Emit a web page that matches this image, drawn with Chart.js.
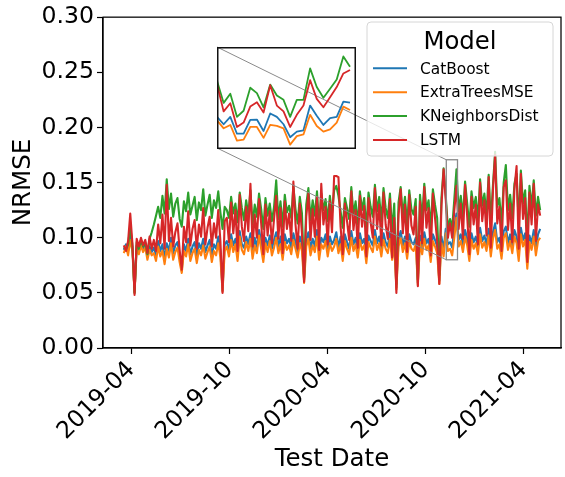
<!DOCTYPE html>
<html>
<head>
<meta charset="utf-8">
<script src="https://cdn.jsdelivr.net/npm/chart.js@4.4.1/dist/chart.umd.min.js"></script>
<style>
  html, body { margin: 0; padding: 0; background: #fff; }
  #wrap { position: relative; width: 565px; height: 477px; }
  #main { position: absolute; left: 0; top: 0; }
  #inset { position: absolute; left: 217px; top: 47px; }
</style>
</head>
<body>
<div id="wrap">
  <canvas id="main" width="565" height="477"></canvas>
  <canvas id="inset" width="139" height="102"></canvas>
</div>
<script>
// data (one value every 4 days from 2019-03-18)
const startDate = '2019-03-18';
const stepDays = 4;
const seriesNames = ['CatBoost', 'ExtraTreesMSE', 'KNeighborsDist', 'LSTM'];
const tickDates = ['2019-04-01', '2019-10-01', '2020-04-01', '2020-10-01', '2021-04-01'];
const tickLabels = ['2019-04', '2019-10', '2020-04', '2020-10', '2021-04'];
const yTicks = [0, 0.05, 0.10, 0.15, 0.20, 0.25, 0.30];

const catBoost = [
  0.089,0.094,0.088,0.102,0.091,0.051,0.093,0.088,0.096,0.090,0.094,0.083,0.092,0.087,
  0.091,0.084,0.097,0.088,0.094,0.081,0.095,0.088,0.100,0.086,
  0.093,0.096,0.083,0.070,0.094,0.088,0.099,0.085,0.092,0.096,
  0.083,0.095,0.090,0.099,0.087,0.093,0.098,0.084,0.094,0.090,
  0.101,0.088,0.052,0.094,
  0.097,0.088,0.103,0.093,0.099,0.085,0.106,0.094,0.091,0.101,
  0.094,0.104,0.086,0.100,0.091,0.107,0.097,0.083,0.100,0.093,
  0.102,0.090,0.098,0.105,0.092,0.101,0.085,0.103,0.095,0.099,
  0.091,0.104,0.096,0.087,0.101,0.094,0.062,0.098,0.105,0.090,
  0.099,0.092,0.107,0.086,0.100,0.096,0.103,0.089,0.101,0.094,
  0.098,0.105,0.091,0.101,0.084,0.103,0.096,0.090,0.106,0.094,
  0.100,0.088,0.104,0.095,0.099,0.083,0.102,0.097,0.093,0.107,
  0.095,0.101,0.089,0.104,0.096,0.092,0.105,0.086,0.099,0.055,
  0.098,0.106,0.093,0.101,0.087,0.103,0.096,0.094,0.100,0.059,
  0.102,0.091,0.105,0.095,0.099,0.084,0.103,0.098,0.092,0.061,
  0.101,0.089,0.108,0.094,0.096,0.091,0.110,0.122,0.098,0.103,
  0.093,0.107,0.099,0.085,0.104,0.096,0.101,0.091,0.109,0.097,
  0.102,0.094,0.108,0.089,0.105,0.113,0.096,0.100,0.087,0.106,
  0.110,0.095,0.103,0.092,0.107,0.101,0.085,0.109,0.098,0.104,
  0.078,0.102,0.095,0.107,0.090,0.103,0.108
];
const extraTrees = [
  0.086,0.092,0.084,0.098,0.088,0.050,0.090,0.085,0.093,0.087,0.091,0.080,0.089,0.084,
  0.086,0.079,0.092,0.083,0.088,0.076,0.090,0.082,0.095,0.080,
  0.087,0.091,0.078,0.068,0.088,0.083,0.094,0.079,0.086,0.090,
  0.077,0.089,0.084,0.093,0.081,0.087,0.092,0.078,0.088,0.084,
  0.095,0.082,0.051,0.088,
  0.092,0.083,0.098,0.087,0.094,0.079,0.101,0.089,0.085,0.096,
  0.088,0.099,0.081,0.093,0.086,0.102,0.090,0.078,0.095,0.087,
  0.097,0.084,0.091,0.100,0.086,0.094,0.080,0.096,0.089,0.093,
  0.085,0.098,0.090,0.082,0.095,0.088,0.059,0.092,0.099,0.084,
  0.093,0.087,0.101,0.080,0.094,0.090,0.097,0.083,0.095,0.088,
  0.092,0.099,0.086,0.094,0.079,0.097,0.090,0.085,0.100,0.088,
  0.094,0.082,0.098,0.089,0.093,0.077,0.096,0.091,0.087,0.101,
  0.089,0.095,0.083,0.098,0.090,0.086,0.099,0.080,0.093,0.053,
  0.092,0.100,0.087,0.095,0.081,0.097,0.090,0.088,0.094,0.057,
  0.096,0.085,0.099,0.089,0.093,0.078,0.097,0.092,0.086,0.058,
  0.095,0.083,0.104,0.088,0.090,0.084,0.100,0.118,0.092,0.097,
  0.087,0.101,0.093,0.079,0.098,0.090,0.095,0.085,0.103,0.091,
  0.096,0.088,0.102,0.083,0.099,0.107,0.090,0.094,0.081,0.100,
  0.104,0.089,0.097,0.086,0.101,0.095,0.079,0.103,0.092,0.098,
  0.072,0.096,0.089,0.101,0.084,0.097,0.100
];
const kNeighbors = [
  0.091,0.090,0.094,0.110,0.093,0.050,0.096,0.090,0.098,0.092,0.096,0.085,0.099,0.105,
  0.112,0.120,0.128,0.118,0.138,0.122,0.153,0.126,0.140,0.119,
  0.131,0.136,0.117,0.110,0.133,0.124,0.141,0.121,0.129,0.137,
  0.116,0.132,0.125,0.144,0.120,0.130,0.139,0.118,0.134,0.127,
  0.142,0.123,0.108,0.128,
  0.125,0.118,0.137,0.122,0.131,0.114,0.141,0.127,0.116,0.134,
  0.121,0.143,0.112,0.130,0.119,0.140,0.126,0.108,0.136,0.120,
  0.131,0.115,0.128,0.152,0.117,0.133,0.110,0.139,0.123,0.129,
  0.118,0.147,0.126,0.113,0.137,0.122,0.064,0.130,0.145,0.116,
  0.134,0.120,0.142,0.111,0.140,0.125,0.135,0.115,0.138,0.122,
  0.143,0.147,0.138,0.124,0.109,0.136,0.127,0.117,0.146,0.121,
  0.133,0.112,0.142,0.125,0.136,0.107,0.141,0.128,0.119,0.148,
  0.124,0.137,0.115,0.145,0.127,0.118,0.140,0.106,0.131,0.058,
  0.132,0.146,0.120,0.137,0.111,0.143,0.126,0.121,0.135,0.062,
  0.139,0.117,0.149,0.125,0.134,0.108,0.144,0.130,0.118,0.066,
  0.136,0.163,0.138,0.109,0.117,0.109,0.135,0.162,0.124,0.138,
  0.119,0.151,0.131,0.110,0.142,0.127,0.137,0.116,0.153,0.129,
  0.140,0.121,0.157,0.114,0.148,0.178,0.128,0.136,0.112,0.150,
  0.166,0.125,0.139,0.118,0.149,0.158,0.113,0.161,0.131,0.143,
  0.098,0.147,0.128,0.152,0.120,0.137,0.125
];
const lstm = [
  0.093,0.088,0.097,0.122,0.095,0.048,0.099,0.092,0.100,0.093,0.098,0.086,0.101,0.090,
  0.098,0.088,0.112,0.095,0.121,0.090,0.148,0.097,0.118,0.092,
  0.105,0.113,0.089,0.071,0.110,0.096,0.124,0.093,0.108,0.116,
  0.090,0.112,0.101,0.127,0.094,0.109,0.119,0.092,0.113,0.100,
  0.125,0.097,0.050,0.115,
  0.118,0.096,0.132,0.104,0.125,0.088,0.139,0.110,0.097,0.128,
  0.106,0.149,0.092,0.121,0.100,0.135,0.113,0.085,0.130,0.102,
  0.124,0.095,0.117,0.138,0.099,0.127,0.086,0.133,0.108,0.122,
  0.097,0.151,0.112,0.090,0.131,0.104,0.060,0.119,0.140,0.098,
  0.126,0.101,0.137,0.089,0.149,0.112,0.128,0.094,0.133,0.105,
  0.156,0.156,0.155,0.110,0.085,0.131,0.115,0.098,0.142,0.107,
  0.125,0.091,0.138,0.110,0.129,0.083,0.136,0.114,0.100,0.145,
  0.108,0.130,0.093,0.141,0.112,0.099,0.135,0.082,0.118,0.050,
  0.121,0.144,0.104,0.130,0.087,0.139,0.111,0.103,0.128,0.056,
  0.133,0.095,0.146,0.109,0.127,0.084,0.140,0.118,0.097,0.058,
  0.129,0.162,0.135,0.100,0.113,0.100,0.125,0.147,0.108,0.131,
  0.099,0.148,0.119,0.085,0.137,0.112,0.130,0.094,0.150,0.115,
  0.134,0.102,0.155,0.091,0.143,0.175,0.113,0.128,0.088,0.146,
  0.152,0.107,0.131,0.096,0.144,0.165,0.090,0.158,0.117,0.136,
  0.078,0.141,0.112,0.149,0.097,0.130,0.120
];

// zoomed window: daily values from 2020-11-08
const insetStart = '2020-11-08';
const insetDays = 20.9;
const insetYRange = [0.080, 0.1707];
const insetCatBoost = [0.1086,0.1020,0.1086,0.0936,0.0936,0.1059,0.1062,0.0960,0.1116,0.1086,0.1020,0.0905,0.0954,0.0966,0.1186,0.1095,0.1014,0.1074,0.1086,0.1222,0.1213];
const insetExtraTrees = [0.1056,0.0984,0.1014,0.0875,0.0884,0.0996,0.0996,0.0899,0.1014,0.1005,0.0984,0.0839,0.0914,0.0929,0.1104,0.1005,0.0954,0.0975,0.1035,0.1177,0.1147];
const insetKNeighbors = [0.1406,0.1210,0.1291,0.1086,0.1140,0.1345,0.1297,0.1171,0.1373,0.1276,0.1237,0.1086,0.1237,0.1237,0.1517,0.1351,0.1255,0.1336,0.1418,0.1623,0.1532];
const insetLstm = [0.1376,0.1134,0.1207,0.0996,0.1035,0.1177,0.1216,0.1125,0.1367,0.1186,0.1134,0.0996,0.1104,0.1186,0.1412,0.1246,0.1171,0.1261,0.1351,0.1472,0.1502];

const colors = ['#1f77b4', '#ff7f0e', '#2ca02c', '#d62728'];
const FONT = '"DejaVu Sans", sans-serif';
const INSET = { left: 217, top: 47, w: 139, h: 102 };

const dayOf = d => Math.round((Date.parse(d) - Date.parse(startDate)) / 864e5);
const tickDays = tickDates.map(dayOf);
const lastDay = (lstm.length - 1) * stepDays;
const xMin = -0.05 * lastDay, xMax = lastDay * 1.05;
const insetX0 = dayOf(insetStart), insetX1 = insetX0 + insetDays;

function toPoints(vals, x0, step){
  return vals.map((v, i) => ({ x: x0 + i * step, y: v }));
}

function makeSets(series, x0, step, width){
  return series.map((vals, i) => ({
    label: seriesNames[i],
    data: toPoints(vals, x0, step),
    borderColor: colors[i],
    backgroundColor: colors[i],
    borderWidth: width,
    pointRadius: 0,
    borderJoinStyle: 'round',
    tension: 0,
    order: series.length - i
  }));
}

const mainExtras = {
  id: 'mainExtras',
  afterDatasetsDraw(chart){
    const { ctx, chartArea: a, scales: { x, y } } = chart;
    const rx0 = x.getPixelForValue(insetX0), rx1 = x.getPixelForValue(insetX1);
    const ry0 = y.getPixelForValue(insetYRange[1]), ry1 = y.getPixelForValue(insetYRange[0]);
    ctx.save();
    ctx.strokeStyle = '#8a8a8a';
    ctx.lineWidth = 1.3;
    ctx.strokeRect(rx0, ry0, rx1 - rx0, ry1 - ry0);
    ctx.lineWidth = 1;
    ctx.beginPath();
    ctx.moveTo(INSET.left, INSET.top);
    ctx.lineTo(rx0, ry0);
    ctx.moveTo(INSET.left, INSET.top + INSET.h - 1);
    ctx.lineTo(rx0, ry1);
    ctx.stroke();
    // full frame like matplotlib spines
    ctx.strokeStyle = '#000';
    ctx.lineWidth = 1.25;
    ctx.strokeRect(a.left, a.top, a.right - a.left, a.bottom - a.top);
    ctx.restore();
  },
  afterDraw(chart){
    const ctx = chart.ctx;
    const lx = 367, ly = 22, lw = 186, lh = 134, r = 4;
    ctx.save();
    ctx.beginPath();
    ctx.moveTo(lx + r, ly);
    ctx.arcTo(lx + lw, ly, lx + lw, ly + lh, r);
    ctx.arcTo(lx + lw, ly + lh, lx, ly + lh, r);
    ctx.arcTo(lx, ly + lh, lx, ly, r);
    ctx.arcTo(lx, ly, lx + lw, ly, r);
    ctx.closePath();
    ctx.fillStyle = 'rgba(255,255,255,0.8)';
    ctx.fill();
    ctx.strokeStyle = '#d6d6d6';
    ctx.lineWidth = 1;
    ctx.stroke();
    ctx.fillStyle = '#000';
    ctx.font = '24.4px ' + FONT;
    ctx.textAlign = 'center';
    ctx.textBaseline = 'alphabetic';
    ctx.fillText('Model', lx + lw / 2, 49);
    ctx.font = '15.4px ' + FONT;
    ctx.textAlign = 'left';
    chart.data.datasets.forEach((ds, i) => {
      const yy = 68.3 + i * 23.9;
      ctx.strokeStyle = ds.borderColor;
      ctx.lineWidth = 2;
      ctx.beginPath();
      ctx.moveTo(373, yy);
      ctx.lineTo(407, yy);
      ctx.stroke();
      ctx.fillStyle = '#000';
      ctx.fillText(ds.label, 420, yy + 5.2);
    });
    ctx.restore();
  }
};

new Chart(document.getElementById('main'), {
  type: 'line',
  data: { datasets: makeSets([catBoost, extraTrees, kNeighbors, lstm], 0, stepDays, 2.1) },
  options: {
    responsive: false,
    animation: false,
    devicePixelRatio: 1,
    parsing: false,
    layout: { padding: { top: 14, right: 4, left: 0, bottom: 0 } },
    plugins: { legend: { display: false }, tooltip: { enabled: false } },
    scales: {
      x: {
        type: 'linear',
        min: xMin,
        max: xMax,
        afterBuildTicks: s => { s.ticks = tickDays.map(v => ({ value: v })); },
        afterFit: s => { s.height = 129; },
        ticks: {
          autoSkip: false,
          minRotation: 45,
          maxRotation: 45,
          padding: 2,
          color: '#000',
          font: { family: FONT, size: 23.6 },
          callback: v => tickLabels[tickDays.indexOf(v)]
        },
        grid: { display: true, drawOnChartArea: false, drawTicks: true, tickLength: 6, color: '#000', tickWidth: 1.2 },
        border: { display: true, color: '#000', width: 1.25 },
        title: { display: true, text: 'Test Date', color: '#000', font: { family: FONT, size: 24.5 }, padding: { top: 0, bottom: 3 } }
      },
      y: {
        min: 0,
        max: 0.30,
        afterBuildTicks: s => { s.ticks = yTicks.map(v => ({ value: v })); },
        afterFit: s => { s.width = 103; },
        ticks: {
          padding: 3,
          color: '#000',
          font: { family: FONT, size: 23.6 },
          callback: v => v.toFixed(2)
        },
        grid: { display: true, drawOnChartArea: false, drawTicks: true, tickLength: 6, color: '#000', tickWidth: 1.2 },
        border: { display: true, color: '#000', width: 1.25 },
        title: { display: true, text: 'NRMSE', color: '#000', font: { family: FONT, size: 24.5 }, padding: { top: 9, bottom: 0 } }
      }
    }
  },
  plugins: [mainExtras]
});

const insetFrame = {
  id: 'insetFrame',
  afterDraw(chart){
    const { ctx, width, height } = chart;
    ctx.save();
    ctx.strokeStyle = '#111';
    ctx.lineWidth = 1.5;
    ctx.strokeRect(0.75, 0.75, width - 1.5, height - 1.5);
    ctx.restore();
  }
};

new Chart(document.getElementById('inset'), {
  type: 'line',
  data: { datasets: makeSets([insetCatBoost, insetExtraTrees, insetKNeighbors, insetLstm], insetX0, 1, 1.8) },
  options: {
    responsive: false,
    animation: false,
    devicePixelRatio: 1,
    parsing: false,
    layout: { padding: 0 },
    plugins: { legend: { display: false }, tooltip: { enabled: false } },
    scales: {
      x: { type: 'linear', display: false, min: insetX0, max: insetX1 },
      y: { display: false, min: insetYRange[0], max: insetYRange[1] }
    }
  },
  plugins: [insetFrame]
});
</script>
</body>
</html>
